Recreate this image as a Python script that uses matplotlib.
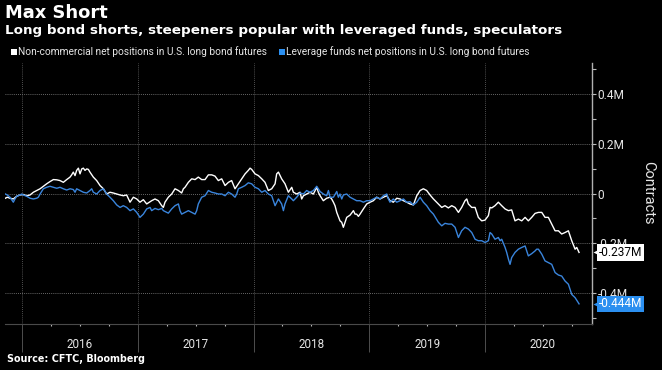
import matplotlib
matplotlib.use('Agg')
import matplotlib.pyplot as plt
import matplotlib.patches as mpatches
import numpy as np
from matplotlib.transforms import blended_transform_factory

plt.rcParams['font.family'] = ['Roboto', 'DejaVu Sans']

# ---------------- data (decimal year, thousands of contracts) ----------------
white_t = [2015.856, 2015.873, 2015.896, 2015.925, 2015.954, 2015.983, 2016.011, 2016.040, 2016.069, 2016.098,
           2016.127, 2016.156, 2016.184, 2016.213, 2016.242, 2016.271, 2016.300, 2016.328, 2016.357, 2016.386,
           2016.415, 2016.429, 2016.443, 2016.458, 2016.472, 2016.487, 2016.501, 2016.516, 2016.530, 2016.544,
           2016.559, 2016.573, 2016.587, 2016.616, 2016.645, 2016.674, 2016.703, 2016.731, 2016.760, 2016.789,
           2016.818, 2016.847, 2016.875, 2016.904, 2016.933, 2016.962, 2016.991, 2017.019, 2017.048, 2017.077,
           2017.120, 2017.149, 2017.178, 2017.207, 2017.221, 2017.235, 2017.264, 2017.293, 2017.322, 2017.351,
           2017.379, 2017.394, 2017.408, 2017.437, 2017.466, 2017.495, 2017.523, 2017.552, 2017.581, 2017.610,
           2017.639, 2017.667, 2017.696, 2017.725, 2017.754, 2017.783, 2017.811, 2017.840, 2017.869, 2017.898,
           2017.927, 2017.955, 2017.970, 2017.984, 2018.013, 2018.042, 2018.071, 2018.099, 2018.128, 2018.157,
           2018.186, 2018.200, 2018.215, 2018.243, 2018.272, 2018.301, 2018.330,
           2018.344, 2018.373, 2018.402, 2018.416, 2018.431, 2018.459, 2018.488, 2018.517, 2018.546, 2018.560,
           2018.575, 2018.603, 2018.632, 2018.661, 2018.675, 2018.690, 2018.704, 2018.719, 2018.747, 2018.762,
           2018.776, 2018.791, 2018.805, 2018.834, 2018.863, 2018.877, 2018.891, 2018.906, 2018.920, 2018.949,
           2018.978, 2019.007, 2019.035, 2019.064, 2019.093, 2019.122, 2019.151, 2019.179, 2019.208, 2019.237,
           2019.266, 2019.295, 2019.323, 2019.352, 2019.381, 2019.410, 2019.439, 2019.467, 2019.496, 2019.525,
           2019.554,
           2019.597, 2019.626, 2019.654, 2019.683, 2019.712, 2019.741, 2019.770, 2019.798, 2019.827, 2019.842,
           2019.856, 2019.885, 2019.914, 2019.942, 2019.971, 2020.000, 2020.029, 2020.043, 2020.058, 2020.086,
           2020.115, 2020.144, 2020.173, 2020.202, 2020.230, 2020.259, 2020.288, 2020.317, 2020.346, 2020.374,
           2020.403, 2020.432, 2020.461, 2020.490, 2020.518, 2020.547, 2020.576, 2020.605, 2020.634, 2020.662,
           2020.691, 2020.720, 2020.749, 2020.778, 2020.792, 2020.812]
white_v = [-19, -15, -19, -22, -11, -6, -4, -9, -6, 5,
           12, 19, 29, 39, 48, 56, 55, 52, 45, 56,
           66, 75, 86, 72, 93, 102, 79, 99, 102, 93,
           99, 97, 86, 66, 52, 32, 19, -2, 5, 2,
           -2, -6, -9, -6, -35, -15, -22, -35, -25, -42,
           -29, -22, -29, -49, -56, -35, -15, -2, 19, 12,
           2, 19, 25, 45, 59, 56, 66, 56, 56, 75,
           75, 70, 52, 59, 32, 45, 52, 19, 39, 59,
           79, 93, 102, 97, 79, 72, 59, 45, 12, 19,
           39, 79, 86, 59, 39, 5, 25,
           5, -2, 5, -22, -9, -2, 5, -2, 25, 5,
           -9, -29, -19, -15, -22, -35, -49, -76, -110, -116,
           -136, -116, -96, -87, -69, -83, -83, -92, -83, -62,
           -42, -35, -29, -15, -22, -15, -9, -29, -35, -19,
           -22, -29, -35, -42, -46, -9, 12, 19, 12, -6,
           -22,
           -42, -56, -49, -58, -49, -56, -76, -56, -29, -22,
           -42, -56, -56, -96, -110, -107, -89, -56, -58, -49,
           -35, -49, -62, -69, -66, -110, -103, -110, -96, -110,
           -96, -80, -76, -76, -96, -96, -123, -150, -150, -163,
           -157, -150, -190, -224, -217, -237]

blue_t = [2015.856, 2015.873, 2015.896, 2015.925, 2015.939, 2015.954, 2015.983, 2015.997, 2016.011, 2016.040,
          2016.069, 2016.098, 2016.127, 2016.141, 2016.156, 2016.184, 2016.213, 2016.242, 2016.271, 2016.300,
          2016.328, 2016.357, 2016.386, 2016.415, 2016.443, 2016.458, 2016.472, 2016.501, 2016.530, 2016.559,
          2016.587, 2016.602, 2016.616, 2016.645, 2016.674, 2016.703, 2016.731, 2016.760, 2016.789, 2016.818,
          2016.847, 2016.875, 2016.904, 2016.933, 2016.962, 2016.991, 2017.019, 2017.048, 2017.077, 2017.106,
          2017.120, 2017.149, 2017.178, 2017.207, 2017.221, 2017.250, 2017.264, 2017.293, 2017.322, 2017.351,
          2017.365, 2017.379, 2017.408, 2017.437, 2017.466, 2017.495, 2017.509, 2017.523, 2017.552, 2017.581,
          2017.610, 2017.639, 2017.667, 2017.696, 2017.725, 2017.754, 2017.783, 2017.811, 2017.840, 2017.855,
          2017.869, 2017.898, 2017.927, 2017.955, 2017.984, 2018.013, 2018.042, 2018.071, 2018.099, 2018.128,
          2018.157, 2018.186, 2018.215, 2018.243, 2018.258, 2018.272, 2018.301, 2018.330,
          2018.344, 2018.373, 2018.402, 2018.431, 2018.459, 2018.488, 2018.517, 2018.546, 2018.575, 2018.603,
          2018.632, 2018.647, 2018.661, 2018.690, 2018.719, 2018.733, 2018.747, 2018.762, 2018.776, 2018.805,
          2018.834, 2018.863, 2018.891, 2018.920, 2018.949, 2018.978, 2019.007, 2019.035, 2019.064, 2019.093,
          2019.122, 2019.151, 2019.165, 2019.179, 2019.208, 2019.237, 2019.266, 2019.295, 2019.323, 2019.352,
          2019.381, 2019.410, 2019.439, 2019.467, 2019.496, 2019.525, 2019.554,
          2019.597, 2019.626, 2019.654, 2019.683, 2019.712, 2019.741, 2019.770, 2019.798, 2019.827, 2019.856,
          2019.885, 2019.914, 2019.942, 2019.971, 2020.000, 2020.029, 2020.043, 2020.058, 2020.086, 2020.115,
          2020.130, 2020.144, 2020.173, 2020.187, 2020.202, 2020.216, 2020.230, 2020.259, 2020.288, 2020.317,
          2020.346, 2020.374, 2020.403, 2020.432, 2020.446, 2020.461, 2020.490, 2020.518, 2020.547, 2020.576,
          2020.605, 2020.634, 2020.662, 2020.691, 2020.720, 2020.749, 2020.778, 2020.812]
blue_v = [-2, -6, -15, -35, -22, -11, -6, -2, -6, -11,
          -19, -22, -19, -15, -2, 19, 25, 29, 25, 21,
          25, 19, 14, 19, 16, 5, 19, 12, 5, 2,
          12, 19, 5, -2, 12, 19, -2, -15, -29, -46,
          -56, -49, -56, -69, -62, -76, -96, -83, -62, -56,
          -69, -60, -65, -60, -69, -76, -79, -62, -49, -42,
          -69, -83, -76, -69, -76, -83, -69, -42, -15, -9,
          12, 5, 2, -2, -2, -9, 5, -2, -15, -2,
          19, 25, 32, 43, 39, 25, 19, 5, 12, -2,
          -9, -49, -22, -42, -69, -42, -9, -22,
          -29, -15, 2, -2, 12, 5, 12, 29, 8, -2,
          -9, 12, -15, -15, 8, -15, -2, -22, -6, -2,
          -15, -22, -29, -29, -35, -29, -29, -22, -15, -22,
          -9, -2, -22, -35, -22, -35, -29, -22, -35, -33,
          -46, -35, -15, -35, -49, -69, -83,
          -116, -130, -120, -123, -123, -136, -177, -150, -136, -143,
          -157, -184, -190, -190, -197, -190, -157, -163, -184, -177,
          -190, -184, -217, -237, -264, -285, -258, -237, -224, -217,
          -211, -251, -242, -231, -224, -224, -244, -271, -278, -285,
          -318, -328, -332, -352, -365, -406, -419, -444]

years = [2016, 2017, 2018, 2019, 2020]
y_major = [-0.4, -0.2, 0.0, 0.2, 0.4]
y_major_labels = ['-0.4M', '-0.2M', '0', '0.2M', '0.4M']
y_minor = [-0.5, -0.3, -0.1, 0.1, 0.3, 0.5]
series_names = ['Non-commercial net positions in U.S. long bond futures',
                'Leverage funds net positions in U.S. long bond futures']
last_labels = ['-0.237M', '-0.444M']
title = 'Max Short'
subtitle = 'Long bond shorts, steepeners popular with leveraged funds, speculators'
source = 'Source: CFTC, Bloomberg'
axis_title = 'Contracts'

# ---------------- styling ----------------
W, H = 662, 370
BG = 'black'
WHITE = '#ffffff'
BLUE = '#3a85dc'
BLUE_BOX = '#2b8ff0'
GRID = '#8a8a8a'
TXT = '#e6e6e6'
BOLD_FONT = ['DejaVu Sans']

fig = plt.figure(figsize=(W / 100, H / 100), dpi=100, facecolor=BG)
ax_l, ax_r, ax_t, ax_b = 5, 592, 63, 324
AW = ax_r - ax_l
ax = fig.add_axes([ax_l / W, 1 - ax_b / H, AW / W, (ax_b - ax_t) / H])
ax.set_facecolor(BG)

wv = np.array(white_v) / 1000.0
bv = np.array(blue_v) / 1000.0
ax.plot(white_t, wv, color=WHITE, lw=1.0, zorder=3, solid_joinstyle='round')
ax.plot(blue_t, bv, color=BLUE, lw=1.0, zorder=4, solid_joinstyle='round')

ax.set_xlim(2015.853, 2020.924)
ax.set_ylim(-0.525, 0.525)

# y axis on right
ax.yaxis.tick_right()
ax.set_yticks(y_major)
ax.set_yticklabels(y_major_labels)
ax.set_yticks(y_minor, minor=True)
ax.tick_params(axis='y', which='both', direction='out', length=3, width=0.8,
               color='#bbbbbb', labelcolor=TXT, labelsize=8.6, pad=1)
for yv in y_major:
    ax.axhline(yv, color=GRID, lw=0.6, ls=(0, (1, 1.5)), zorder=1)

# x axis
ax.set_xticks(years)
ax.set_xticklabels([''] * len(years))
quarters = [y + q for y in [2015] + years for q in (0, 0.25, 0.5, 0.75)]
ax.set_xticks([q for q in quarters if 2015.853 < q < 2020.924 and q not in years], minor=True)
ax.tick_params(axis='x', which='major', direction='out', length=20, width=0.6, color='#5a5a5a')
ax.tick_params(axis='x', which='minor', direction='out', length=1.5, width=0.8, color='#bbbbbb')
for yr in years:
    ax.axvline(yr, color='#6a6a6a', lw=0.6, ls=(0, (1, 1.5)), zorder=1)

tr = blended_transform_factory(ax.transData, ax.transAxes)
for yr in years:
    ax.text(yr + 0.5, -(344.5 - ax_b) / (ax_b - ax_t), str(yr), transform=tr,
            ha='center', va='center', color=TXT, fontsize=8.4)

for s in ['left', 'top']:
    ax.spines[s].set_visible(False)
ax.spines['right'].set_color('#b0b0b0')
ax.spines['right'].set_linewidth(1.0)
ax.spines['bottom'].set_color('#4a4a4a')
ax.spines['bottom'].set_linewidth(0.8)

# last value boxes
tr_r = blended_transform_factory(ax.transAxes, ax.transData)
for val, lab, fc, tc in [(wv[-1], last_labels[0], WHITE, 'black'), (bv[-1], last_labels[1], BLUE_BOX, WHITE)]:
    ax.text(1.0 + 7 / AW, val, lab, transform=tr_r, ha='left', va='center',
            fontsize=8.6, color=tc, zorder=10, clip_on=False,
            bbox=dict(boxstyle='square,pad=0.15', fc=fc, ec='none'))
    ax.plot([1.0 + 3.5 / AW], [val], marker='<', ms=4.5, color=fc, mec='none',
            transform=tr_r, clip_on=False, zorder=9)

# axis title
fig.text(648 / W, 1 - 193 / H, axis_title, rotation=270, ha='center', va='center',
         color=TXT, fontsize=10.5)

# titles
fig.text(5 / W, 1 - 18.3 / H, title, ha='left', va='baseline', color=WHITE,
         fontsize=12.9, fontweight='bold', family=BOLD_FONT)
fig.text(5 / W, 1 - 34.3 / H, subtitle, ha='left', va='baseline', color=WHITE,
         fontsize=9.7, fontweight='bold', family=BOLD_FONT)

# legend
leg_y = 52
for x0, col, name in [(11, WHITE, series_names[0]), (279, BLUE_BOX, series_names[1])]:
    fig.patches.append(mpatches.Rectangle((x0 / W, 1 - (leg_y + 3) / H), 5.5 / W, 6 / H,
                                          transform=fig.transFigure, fc=col, ec='none'))
    fig.text((x0 + 7) / W, 1 - leg_y / H, name, ha='left', va='center', color=TXT, fontsize=7.3)

# source
fig.text(7 / W, 1 - 361.5 / H, source, ha='left', va='baseline', color=WHITE,
         fontsize=6.9, fontweight='bold', family=BOLD_FONT)

fig.savefig('out.png', dpi=100, facecolor=BG)
